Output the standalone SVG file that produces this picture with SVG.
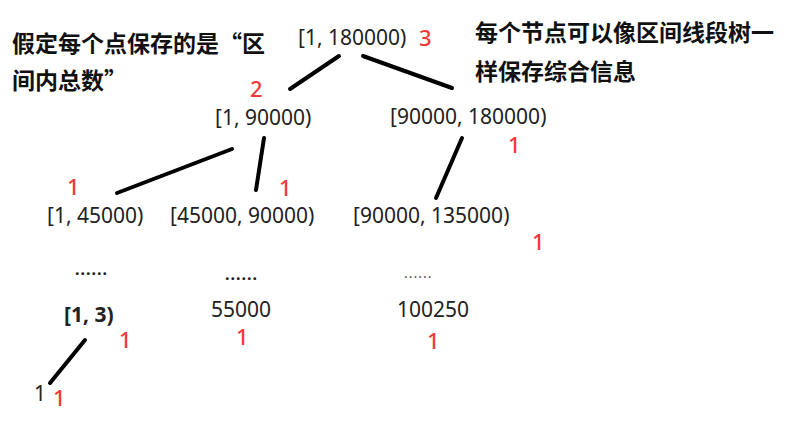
<svg xmlns="http://www.w3.org/2000/svg" width="803" height="426" viewBox="0 0 803 426">
<style>
.t{font-family:"Noto Sans","Open Sans",sans-serif;font-size:21px;fill:#222}
.b{font-weight:bold}
.r{font-family:"Noto Sans","Open Sans",sans-serif;font-size:22px;font-weight:500;fill:#f03a3a}
.cn{font-family:"Noto Sans CJK SC","Noto Sans",sans-serif;font-size:23px;font-weight:bold;fill:#111}
.d{font-family:"Noto Sans",sans-serif;font-size:16px;font-weight:bold;fill:#222;letter-spacing:1px}
.e{stroke:#000;stroke-width:4;stroke-linecap:round;fill:none}
</style>
<rect width="803" height="426" fill="#fff"/>
<g id="note-left">
<text class="cn" x="12" y="52">假定每个点保存的是“区</text>
<text class="cn" x="12" y="89">间内总数”</text>
</g>
<g id="note-right">
<text class="cn" x="475" y="41">每个节点可以像区间线段树一</text>
<text class="cn" x="475" y="80">样保存综合信息</text>
</g>
<g id="connectors">
<line class="e" x1="339" y1="56" x2="290" y2="89"/>
<line class="e" x1="363" y1="56" x2="452" y2="88"/>
<line class="e" x1="232" y1="149" x2="117" y2="193"/>
<line class="e" x1="264" y1="138" x2="256" y2="190"/>
<line class="e" x1="462" y1="138" x2="436" y2="198"/>
<line class="e" x1="85" y1="340" x2="50" y2="383"/>
</g>
<g id="n-root">
<text class="t" x="298" y="45">[1, 180000)</text>
<text class="r" x="419" y="46">3</text>
</g>
<g id="n-1-90000">
<text class="r" x="250" y="97">2</text>
<text class="t" x="215" y="125">[1, 90000)</text>
</g>
<g id="n-90000-180000">
<text class="t" x="390" y="124">[90000, 180000)</text>
<text class="r" x="508" y="153">1</text>
</g>
<g id="n-1-45000">
<text class="r" x="67" y="195">1</text>
<text class="t" x="47" y="223">[1, 45000)</text>
</g>
<g id="n-45000-90000">
<text class="t" x="170" y="223">[45000, 90000)</text>
<text class="r" x="279" y="196">1</text>
</g>
<g id="n-90000-135000">
<text class="t" x="353" y="223">[90000, 135000)</text>
<text class="r" x="532" y="250">1</text>
</g>
<g id="dots">
<text class="d" x="75" y="275">......</text>
<text class="d" x="225" y="280">......</text>
<text class="d" x="404" y="278" style="font-weight:normal;font-size:14px;fill:#555">......</text>
</g>
<g id="n-1-3">
<text class="t b" x="64" y="322">[1, 3)</text>
<text class="r" x="119" y="348">1</text>
</g>
<g id="n-55000">
<text class="t" x="211" y="317">55000</text>
<text class="r" x="236" y="345">1</text>
</g>
<g id="n-100250">
<text class="t" x="397" y="317">100250</text>
<text class="r" x="427" y="349">1</text>
</g>
<g id="n-1">
<text class="t" x="34" y="401">1</text>
<text class="r" x="53" y="406">1</text>
</g>
</svg>
